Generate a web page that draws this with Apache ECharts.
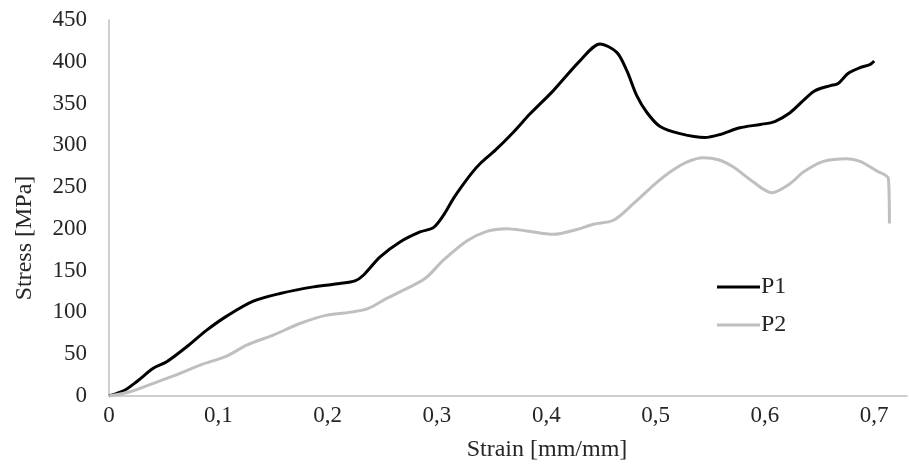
<!DOCTYPE html>
<html>
<head>
<meta charset="utf-8">
<script src="https://cdn.jsdelivr.net/npm/echarts@6/dist/echarts.min.js"></script>
<style>html,body{margin:0;padding:0;background:#fff}#c{width:909px;height:474px}</style>
</head>
<body>
<div id="c"></div>
<script>
var seriesNames = ['P1', 'P2'];
var p1Strain = [0, 0.0146, 0.0253, 0.0405, 0.0528, 0.0711, 0.0894, 0.1077, 0.132, 0.1565, 0.187, 0.211, 0.225, 0.2327, 0.248, 0.2662, 0.2845, 0.2967, 0.3059, 0.315, 0.3227, 0.3318, 0.3394, 0.3532, 0.3699, 0.3852, 0.4065, 0.431, 0.4492, 0.4645, 0.4737, 0.4828, 0.4919, 0.5041, 0.5224, 0.545, 0.559, 0.577, 0.596, 0.609, 0.623, 0.637, 0.646, 0.66, 0.667, 0.676, 0.687, 0.696, 0.7];
var p1Stress = [0, 7.2, 17.1, 33.1, 41.0, 58.9, 78.8, 95.6, 113.5, 122.7, 130.6, 134.6, 137.7, 144.5, 166.4, 184.3, 196.3, 201.5, 216.2, 236.2, 250.9, 266.8, 278, 293.9, 315.7, 337.7, 365.5, 401.4, 421.3, 411.3, 389.4, 359.5, 339.6, 322.5, 314, 309.4, 313, 321, 325, 328.5, 339, 356, 365.5, 371.5, 374, 386, 393, 396.6, 401];
var p2Strain = [0, 0.0192, 0.0405, 0.065, 0.0833, 0.1077, 0.126, 0.1503, 0.1747, 0.1992, 0.2235, 0.2372, 0.254, 0.2662, 0.2891, 0.3059, 0.3273, 0.3456, 0.3639, 0.3822, 0.4065, 0.4279, 0.4431, 0.4614, 0.4797, 0.498, 0.5133, 0.5285, 0.5437, 0.5575, 0.5712, 0.5895, 0.6063, 0.623, 0.6352, 0.6535, 0.6749, 0.6871, 0.7024, 0.713, 0.7139];
var p2Stress = [0, 5.1, 15.2, 27.1, 37, 47.8, 60.9, 72.9, 86.8, 96.8, 100.7, 104.8, 116.8, 124.6, 140.6, 162.5, 185.5, 197.1, 200.3, 197.5, 193.5, 199.2, 205.5, 210.3, 230.1, 252.1, 268, 279.9, 285.2, 282.8, 274, 256, 243.4, 254.1, 268, 280.8, 284, 280.8, 269.2, 260.2, 206.4];
var xMin = 0, xMax = 0.73, xInterval = 0.1;
var yMin = 0, yMax = 450, yInterval = 50;
var xTitle = 'Strain [mm/mm]';
var yTitle = 'Stress [MPa]';

function pairs(xs, ys) { return xs.map(function (x, i) { return [x, ys[i]]; }); }

var font = 'Liberation Serif, Times New Roman, serif';
var textColor = '#262626';
var chart = echarts.init(document.getElementById('c'), null, { renderer: 'canvas' });
chart.setOption({
  animation: false,
  backgroundColor: '#ffffff',
  grid: { left: 109, right: 2, top: 20, bottom: 78, containLabel: false },
  legend: {
    orient: 'vertical',
    left: 717,
    top: 275,
    padding: 0,
    itemWidth: 43,
    itemHeight: 24,
    itemGap: 14,
    icon: 'path://M0,10.5 L43,10.5 L43,13.5 L0,13.5 Z',
    data: seriesNames,
    textStyle: { fontFamily: font, fontSize: 24, color: textColor, padding: [0, 0, 0, -4] }
  },
  xAxis: {
    type: 'value',
    min: xMin, max: xMax, interval: xInterval,
    name: xTitle,
    nameLocation: 'middle',
    nameGap: 42,
    nameTextStyle: { fontFamily: font, fontSize: 24, color: textColor, padding: [0, 0, 0, 78] },
    axisLine: { show: true, lineStyle: { color: '#bfbfbf', width: 1.5 } },
    axisTick: { show: false },
    splitLine: { show: false },
    axisLabel: {
      fontFamily: font, fontSize: 23, color: textColor, margin: 8, showMaxLabel: false,
      formatter: function (v) {
        var t = v * 10;
        if (Math.abs(t - Math.round(t)) > 1e-6) return '';
        return v === 0 ? '0' : v.toFixed(1).replace('.', ',');
      }
    }
  },
  yAxis: {
    type: 'value',
    min: yMin, max: yMax, interval: yInterval,
    name: yTitle,
    nameLocation: 'middle',
    nameGap: 72,
    nameRotate: 90,
    nameTextStyle: { fontFamily: font, fontSize: 24, color: textColor, padding: [0, 60, 0, 0] },
    axisLine: { show: true, lineStyle: { color: '#bfbfbf', width: 1.5 } },
    axisTick: { show: false },
    splitLine: { show: false },
    axisLabel: { fontFamily: font, fontSize: 23, color: textColor, margin: 22 }
  },
  series: [
    {
      name: seriesNames[0], type: 'line', data: pairs(p1Strain, p1Stress),
      smooth: 0.3, showSymbol: false, symbol: 'none',
      lineStyle: { color: '#000000', width: 3 }, itemStyle: { color: '#000000' }
    },
    {
      name: seriesNames[1], type: 'line', data: pairs(p2Strain, p2Stress),
      smooth: 0.3, showSymbol: false, symbol: 'none',
      lineStyle: { color: '#bfbfbf', width: 3 }, itemStyle: { color: '#bfbfbf' }
    }
  ]
});
</script>
</body>
</html>
